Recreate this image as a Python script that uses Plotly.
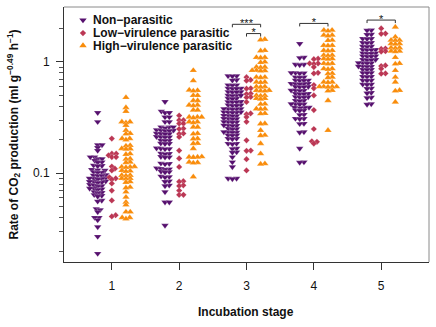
import numpy as np
import plotly.graph_objects as go

# ---------------- data ----------------
stages = [1, 2, 3, 4, 5]
stage_labels = ["1", "2", "3", "4", "5"]
groups = ["Non\u2212parasitic", "Low\u2212virulence parasitic", "High\u2212virulence parasitic"]

np1 = [0.35, 0.29, 0.18, 0.18, 0.17, 0.16, 0.14, 0.14, 0.135, 0.135, 0.13, 0.126, 0.125, 0.118, 0.117,
       0.116, 0.108, 0.107, 0.106, 0.103, 0.102, 0.101, 0.097, 0.096, 0.095, 0.095, 0.091, 0.090, 0.090,
       0.089, 0.088, 0.085, 0.084, 0.084, 0.083, 0.082, 0.079, 0.078, 0.077, 0.076, 0.073, 0.073, 0.072,
       0.071, 0.068, 0.067, 0.066, 0.064, 0.063, 0.062, 0.057, 0.056, 0.048, 0.047, 0.045, 0.040, 0.040,
       0.038, 0.033, 0.027, 0.019]
lv1 = [0.205, 0.15, 0.15, 0.145, 0.14, 0.14, 0.115, 0.11, 0.106, 0.092, 0.09, 0.088, 0.081, 0.07, 0.057,
       0.042, 0.041]
hv1 = [0.48, 0.39, 0.36, 0.29, 0.29, 0.285, 0.27, 0.243, 0.228, 0.226, 0.205, 0.205, 0.2, 0.178, 0.176,
       0.167, 0.166, 0.165, 0.15, 0.148, 0.135, 0.134, 0.126, 0.125, 0.115, 0.114, 0.114, 0.113, 0.106,
       0.105, 0.104, 0.096, 0.096, 0.095, 0.09, 0.09, 0.089, 0.084, 0.083, 0.075, 0.074, 0.068, 0.061,
       0.055, 0.052, 0.045, 0.045, 0.040, 0.040, 0.039]

np2 = [0.44, 0.36, 0.35, 0.35, 0.32, 0.32, 0.29, 0.29, 0.26, 0.26, 0.26, 0.255, 0.245, 0.243, 0.243, 0.24,
       0.24, 0.228, 0.227, 0.226, 0.225, 0.213, 0.212, 0.211, 0.21, 0.198, 0.197, 0.196, 0.186, 0.185,
       0.184, 0.168, 0.167, 0.166, 0.165, 0.151, 0.15, 0.149, 0.141, 0.14, 0.139, 0.123, 0.122, 0.121,
       0.111, 0.11, 0.109, 0.108, 0.104, 0.103, 0.102, 0.094, 0.093, 0.092, 0.085, 0.084, 0.078, 0.077,
       0.068, 0.055, 0.055, 0.034]
lv2 = [0.33, 0.30, 0.30, 0.28, 0.28, 0.252, 0.25, 0.228, 0.226, 0.212, 0.16, 0.136, 0.114, 0.085, 0.084,
       0.078, 0.077, 0.07, 0.064, 0.064]
hv2 = [0.84, 0.68, 0.56, 0.555, 0.55, 0.5, 0.5, 0.45, 0.45, 0.41, 0.41, 0.405, 0.37, 0.37, 0.32, 0.32,
       0.32, 0.315, 0.29, 0.29, 0.285, 0.26, 0.26, 0.228, 0.226, 0.205, 0.204, 0.186, 0.185, 0.167, 0.141,
       0.14, 0.14, 0.139, 0.126, 0.125, 0.124, 0.093]

np3 = [0.75, 0.75, 0.745, 0.69, 0.685, 0.62, 0.62, 0.615, 0.58, 0.58, 0.575, 0.575, 0.54, 0.54, 0.535,
       0.535, 0.5, 0.5, 0.5, 0.495, 0.47, 0.47, 0.465, 0.44, 0.437, 0.435, 0.435, 0.41, 0.41, 0.405, 0.405,
       0.38, 0.38, 0.38, 0.378, 0.375, 0.355, 0.355, 0.353, 0.352, 0.35, 0.33, 0.33, 0.328, 0.326, 0.31,
       0.31, 0.308, 0.306, 0.29, 0.29, 0.288, 0.286, 0.27, 0.27, 0.268, 0.266, 0.252, 0.25, 0.248, 0.235,
       0.235, 0.233, 0.232, 0.22, 0.22, 0.218, 0.205, 0.205, 0.203, 0.185, 0.185, 0.183, 0.167, 0.166,
       0.155, 0.154, 0.14, 0.126, 0.114, 0.09, 0.09, 0.089]
lv3 = [0.73, 0.69, 0.68, 0.58, 0.575, 0.52, 0.515, 0.485, 0.48, 0.437, 0.345, 0.34, 0.32, 0.29, 0.198,
       0.16, 0.159, 0.134, 0.106]
hv3 = [1.6, 1.58, 1.27, 1.26, 1.1, 1.1, 1.09, 1.0, 0.99, 0.9, 0.9, 0.89, 0.84, 0.84, 0.835, 0.83, 0.73,
       0.73, 0.725, 0.66, 0.66, 0.655, 0.6, 0.6, 0.595, 0.556, 0.555, 0.55, 0.55, 0.5, 0.5, 0.495, 0.47,
       0.47, 0.465, 0.42, 0.418, 0.38, 0.38, 0.378, 0.345, 0.343, 0.28, 0.278, 0.243, 0.22, 0.218, 0.185,
       0.15, 0.122, 0.121]

np4 = [1.46, 1.1, 1.09, 0.95, 0.95, 0.94, 0.8, 0.8, 0.795, 0.79, 0.73, 0.73, 0.725, 0.685, 0.685, 0.68,
       0.68, 0.64, 0.64, 0.635, 0.635, 0.63, 0.6, 0.6, 0.595, 0.595, 0.556, 0.555, 0.553, 0.55, 0.52, 0.52,
       0.515, 0.515, 0.485, 0.485, 0.48, 0.48, 0.45, 0.45, 0.445, 0.42, 0.42, 0.418, 0.415, 0.39, 0.39,
       0.388, 0.385, 0.37, 0.368, 0.365, 0.337, 0.335, 0.31, 0.31, 0.308, 0.28, 0.278, 0.235, 0.233,
       0.167, 0.126, 0.125]
lv4 = [1.07, 1.06, 0.97, 0.97, 0.96, 0.9, 0.8, 0.79, 0.62, 0.58, 0.5, 0.37, 0.25, 0.194, 0.192, 0.185]
hv4 = [1.93, 1.93, 1.9, 1.74, 1.74, 1.72, 1.57, 1.56, 1.41, 1.41, 1.4, 1.27, 1.27, 1.26, 1.15, 1.15,
       1.14, 1.07, 1.07, 1.06, 0.97, 0.97, 0.96, 0.87, 0.87, 0.86, 0.79, 0.785, 0.73, 0.725, 0.66, 0.66,
       0.655, 0.6, 0.6, 0.6, 0.598, 0.595, 0.556, 0.55, 0.45, 0.243]

np5 = [1.93, 1.92, 1.77, 1.76, 1.62, 1.62, 1.61, 1.49, 1.49, 1.48, 1.38, 1.38, 1.37, 1.29, 1.29, 1.28,
       1.28, 1.2, 1.2, 1.19, 1.19, 1.13, 1.13, 1.12, 1.12, 1.05, 1.05, 1.04, 1.04, 0.98, 0.98, 0.975, 0.97,
       0.915, 0.915, 0.91, 0.905, 0.855, 0.855, 0.85, 0.8, 0.8, 0.795, 0.74, 0.74, 0.735, 0.685, 0.685,
       0.68, 0.63, 0.63, 0.625, 0.58, 0.575, 0.53, 0.525, 0.48, 0.475, 0.42, 0.415]
lv5 = [2.0, 1.8, 1.79, 1.32, 1.31, 1.25, 1.24, 0.93, 0.92, 0.87, 0.79, 0.785]
hv5 = [2.06, 1.68, 1.57, 1.57, 1.56, 1.46, 1.46, 1.45, 1.34, 1.34, 1.33, 1.25, 1.25, 1.24, 1.1, 0.97,
       0.96, 0.84, 0.73, 0.66, 0.556, 0.55, 0.437]

non_parasitic = [np1, np2, np3, np4, np5]
low_virulence = [lv1, lv2, lv3, lv4, lv5]
high_virulence = [hv1, hv2, hv3, hv4, hv5]
series = [non_parasitic, low_virulence, high_virulence]

# significance brackets: stage, from-group, to-group, height, label
brk_stage = [3, 3, 4, 5]
brk_from = [0, 1, 0, 0]
brk_to = [2, 2, 2, 2]
brk_height = [2.18, 1.80, 2.22, 2.38]
brk_label = ["***", "*", "*", "*"]

# ---------------- styling ----------------
colors = ["#56106E", "#BB3754", "#F98C0A"]
symbols = ["triangle-down", "diamond", "triangle-up"]
msizes = [6.5, 4.8, 6.5]
offsets = [-0.21, 0.0, 0.21]
FONT = "Liberation Sans, Arial, Helvetica, sans-serif"

W, H = 436, 327
ML, MR, MT, MB = 64, 7, 7, 65
PW, PH = W - ML - MR, H - MT - MB
XR = [0.29, 5.71]
YR = [-1.797, 0.494]
px_x = PW / (XR[1] - XR[0])
px_dec = PH / (YR[1] - YR[0])
DX, DY = 4.3, 2.6  # swarm spacing in px (horizontal, vertical)


def swarm(vals):
    ys = np.log10(np.asarray(vals, float)) * px_dec * (DX / DY)
    xs = np.zeros(len(ys))
    placed = []
    D = DX
    for i in np.argsort(ys, kind="stable"):
        y = ys[i]
        near = [(px, py) for px, py in placed if abs(py - y) < D]
        cands = [0.0]
        for px, py in near:
            dx = np.sqrt(D * D - (py - y) ** 2)
            cands += [px + dx, px - dx]
        cands.sort(key=lambda c: (round(abs(c), 6), -c))
        for c in cands:
            if all((c - px) ** 2 + (y - py) ** 2 >= D * D - 1e-6 for px, py in near):
                xs[i] = c
                break
        placed.append((xs[i], y))
    return xs / px_x


fig = go.Figure()

for g in range(3):
    xall, yall = [], []
    for s, vals in zip(stages, series[g]):
        dx = swarm(vals)
        xall += list(s + offsets[g] + dx)
        yall += list(vals)
    fig.add_trace(go.Scatter(
        x=xall, y=yall, mode="markers", showlegend=False, hoverinfo="skip",
        marker=dict(symbol=symbols[g], size=msizes[g], color=colors[g],
                    line=dict(width=0.4, color="rgba(255,255,255,0.55)")),
    ))

# brackets
drop = 10 ** (3 / px_dec)
for s, a, b, h, lab in zip(brk_stage, brk_from, brk_to, brk_height, brk_label):
    x1, x2 = s + offsets[a], s + offsets[b]
    fig.add_trace(go.Scatter(
        x=[x1, x1, x2, x2], y=[h / drop, h, h, h / drop], mode="lines",
        line=dict(color="#333333", width=1), showlegend=False, hoverinfo="skip",
    ))
    fig.add_trace(go.Scatter(
        x=[(x1 + x2) / 2], y=[h], mode="text", text=[lab], textposition="middle center",
        textfont=dict(family=FONT, size=11, color="#111111"), showlegend=False, hoverinfo="skip",
    ))

# legend (manual, on overlay axes)
leg_y = [0.949, 0.898, 0.849]
for g in range(3):
    fig.add_trace(go.Scatter(
        x=[0.052], y=[leg_y[g]], xaxis="x2", yaxis="y2", mode="markers", showlegend=False,
        hoverinfo="skip",
        marker=dict(symbol=symbols[g], size=msizes[g], color=colors[g], line=dict(width=0)),
    ))
    fig.add_annotation(
        x=0.073, y=leg_y[g], xref="paper", yref="paper", xanchor="left", yanchor="middle",
        text="<b>" + groups[g] + "</b>", showarrow=False,
        font=dict(family=FONT, size=12, color="#111111"),
    )

# axis titles
fig.add_annotation(
    x=(246 - ML) / PW, y=-(311.5 - (H - MB)) / PH, xref="paper", yref="paper",
    xanchor="center", yanchor="middle", showarrow=False,
    text="<b>Incubation stage</b>", font=dict(family=FONT, size=12, color="#111111"),
)
fig.add_annotation(
    x=(13 - ML) / PW, y=0.5, xref="paper", yref="paper", xanchor="center", yanchor="middle",
    textangle=-90, showarrow=False,
    text="<b>Rate of CO<sub>2</sub> production (ml g<sup>\u22120.49</sup> h<sup>\u22121</sup>)</b>",
    font=dict(family=FONT, size=12, color="#111111"),
)

# frame (top/right gray)
fig.add_shape(type="line", xref="paper", yref="paper", x0=0, x1=1, y0=1, y1=1,
              line=dict(color="#8a8a8a", width=1))
fig.add_shape(type="line", xref="paper", yref="paper", x0=1, x1=1, y0=0, y1=1,
              line=dict(color="#8a8a8a", width=1))

minor_vals = [0.02, 0.03, 0.04, 0.05, 0.06, 0.07, 0.08, 0.09,
              0.2, 0.3, 0.4, 0.5, 0.6, 0.7, 0.8, 0.9, 2]

fig.update_layout(
    width=W, height=H,
    margin=dict(l=ML, r=MR, t=MT, b=MB, pad=0),
    paper_bgcolor="white", plot_bgcolor="white",
    font=dict(family=FONT, size=12, color="#111111"),
    xaxis=dict(
        range=XR, tickvals=stages, ticktext=stage_labels, ticks="outside", ticklen=7,
        tickcolor="#333333", tickwidth=1, showline=True, linecolor="#333333", linewidth=1,
        showgrid=False, zeroline=False, tickfont=dict(size=12, color="#111111"),
        ticklabelstandoff=6,
    ),
    yaxis=dict(
        type="log", range=YR, tickvals=[0.1, 1], ticktext=["0.1", "1"], ticks="outside",
        ticklen=7, tickcolor="#333333", tickwidth=1, showline=True, linecolor="#333333",
        linewidth=1, showgrid=False, zeroline=False, tickfont=dict(size=12, color="#111111"),
        ticklabelstandoff=4,
        minor=dict(tickvals=minor_vals, ticks="outside", ticklen=4, tickcolor="#555555",
                   showgrid=False),
    ),
    xaxis2=dict(range=[0, 1], overlaying="x", visible=False, anchor="y2"),
    yaxis2=dict(range=[0, 1], overlaying="y", visible=False, anchor="x2"),
)

fig.write_html("out.html")
